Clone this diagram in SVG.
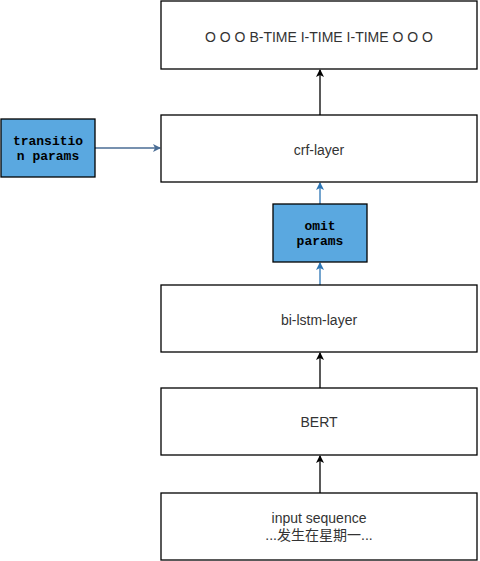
<svg xmlns="http://www.w3.org/2000/svg" width="480" height="561" viewBox="0 0 480 561">
<style>
.box{fill:#fff;stroke:#000;stroke-width:1.3}
.pbox{fill:#5aa8e0;stroke:#000;stroke-width:1.3}
.t{font-family:"Liberation Sans",Arial,sans-serif;font-size:14px;fill:#333;text-anchor:middle}
.m{font-family:"Liberation Mono","Courier New",monospace;font-size:13px;font-weight:bold;fill:#000;text-anchor:middle}
.k{stroke:#000;stroke-width:1.3;fill:none}
.b{stroke:#2b74b4;stroke-width:1.3;fill:none}
.g{stroke:#4a6d95;stroke-width:1.3;fill:none}
</style>
<defs>
<marker id="ak" markerWidth="8" markerHeight="8" refX="7" refY="4" orient="auto" markerUnits="userSpaceOnUse"><path d="M0,0 L8,4 L0,8 L2,4 Z" fill="#000"/></marker>
<marker id="ab" markerWidth="8" markerHeight="8" refX="7" refY="4" orient="auto" markerUnits="userSpaceOnUse"><path d="M0,0 L8,4 L0,8 L2,4 Z" fill="#2b74b4"/></marker>
<marker id="ag" markerWidth="8" markerHeight="8" refX="7" refY="4" orient="auto" markerUnits="userSpaceOnUse"><path d="M0,0 L8,4 L0,8 L2,4 Z" fill="#4a6d95"/></marker>
</defs>
<g id="connectors">
<line class="k" x1="320" y1="115" x2="320" y2="70" marker-end="url(#ak)"/>
<line class="b" x1="320" y1="204" x2="320" y2="183" marker-end="url(#ab)"/>
<line class="b" x1="320" y1="285" x2="320" y2="263" marker-end="url(#ab)"/>
<line class="k" x1="320" y1="388" x2="320" y2="353" marker-end="url(#ak)"/>
<line class="k" x1="320" y1="493" x2="320" y2="456" marker-end="url(#ak)"/>
<line class="g" x1="95" y1="148" x2="160" y2="148" marker-end="url(#ag)"/>
</g>
<g id="output"><rect class="box" x="161" y="1" width="316" height="68"/><text class="t" x="319" y="42">O O O B-TIME I-TIME I-TIME O O O</text></g>
<g id="crf"><rect class="box" x="161" y="115" width="316" height="67"/><text class="t" x="319" y="155">crf-layer</text></g>
<g id="transition"><rect class="pbox" x="1" y="119" width="94" height="58"/><text class="m" x="48" y="145">transitio</text><text class="m" x="48" y="160">n params</text></g>
<g id="omit"><rect class="pbox" x="273" y="204" width="94" height="58"/><text class="m" x="320" y="230">omit</text><text class="m" x="320" y="245">params</text></g>
<g id="bilstm"><rect class="box" x="161" y="285" width="316" height="67"/><text class="t" x="319" y="325">bi-lstm-layer</text></g>
<g id="bert"><rect class="box" x="161" y="388" width="316" height="67"/><text class="t" x="319" y="427">BERT</text></g>
<g id="input"><rect class="box" x="161" y="493" width="316" height="67"/><text class="t" x="319" y="523">input sequence</text><text class="t" x="319" y="540" style="font-family:'Liberation Sans','Noto Sans CJK SC',sans-serif">...发生在星期一...</text></g>
</svg>
